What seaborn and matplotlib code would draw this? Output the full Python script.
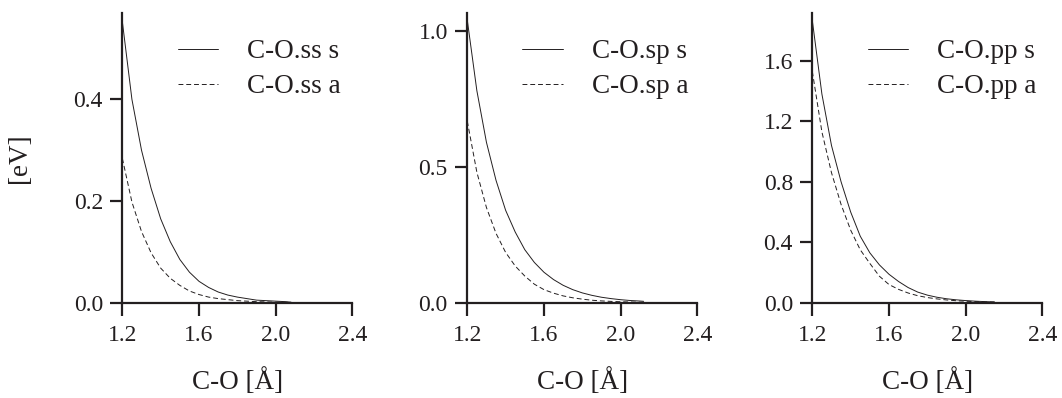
import numpy as np
import pandas as pd
import matplotlib
matplotlib.use("Agg")
import matplotlib.pyplot as plt
import seaborn as sns

# C-O distance grids (Angstrom)
r_ss = [1.20, 1.25, 1.30, 1.35, 1.40, 1.45, 1.50, 1.55, 1.60, 1.65, 1.70,
        1.75, 1.80, 1.85, 1.90, 1.95, 2.00, 2.05, 2.08]
r_sp = [1.20, 1.25, 1.30, 1.35, 1.40, 1.45, 1.50, 1.55, 1.60, 1.65, 1.70,
        1.75, 1.80, 1.85, 1.90, 1.95, 2.00, 2.05, 2.10, 2.12]
r_pp = [1.20, 1.25, 1.30, 1.35, 1.40, 1.45, 1.50, 1.55, 1.60, 1.65, 1.70,
        1.75, 1.80, 1.85, 1.90, 1.95, 2.00, 2.05, 2.10, 2.15]

# energies [eV]
ss_s = [0.553, 0.40, 0.30, 0.225, 0.165, 0.12, 0.085, 0.06, 0.042, 0.030, 0.021,
        0.015, 0.011, 0.008, 0.005, 0.004, 0.003, 0.002, 0.001]
ss_a = [0.284, 0.198, 0.14, 0.098, 0.068, 0.048, 0.034, 0.023, 0.016, 0.011, 0.008,
        0.006, 0.004, 0.003, 0.002, 0.0015, 0.001, 0.0008, 0.0006]
sp_s = [1.04, 0.78, 0.59, 0.45, 0.34, 0.26, 0.195, 0.148, 0.112, 0.085, 0.064,
        0.048, 0.036, 0.027, 0.020, 0.015, 0.011, 0.008, 0.006, 0.005]
sp_a = [0.668, 0.48, 0.35, 0.255, 0.185, 0.135, 0.098, 0.068, 0.048, 0.035, 0.025,
        0.018, 0.013, 0.009, 0.0065, 0.0047, 0.0034, 0.0025, 0.0018, 0.0015]
pp_s = [1.867, 1.38, 1.04, 0.80, 0.60, 0.44, 0.33, 0.25, 0.188, 0.14, 0.10,
        0.07, 0.05, 0.036, 0.026, 0.019, 0.014, 0.010, 0.007, 0.005]
pp_a = [1.53, 1.13, 0.86, 0.65, 0.48, 0.35, 0.26, 0.175, 0.12, 0.088, 0.064,
        0.046, 0.034, 0.025, 0.018, 0.013, 0.0095, 0.007, 0.005, 0.0035]

panels = [
    (r_ss, ss_s, ss_a, "C-O.ss", 0.57, [0.0, 0.2, 0.4]),
    (r_sp, sp_s, sp_a, "C-O.sp", 1.066, [0.0, 0.5, 1.0]),
    (r_pp, pp_s, pp_a, "C-O.pp", 1.917, [0.0, 0.4, 0.8, 1.2, 1.6]),
]
x_ticks = [1.2, 1.6, 2.0, 2.4]

sns.set_theme(style="ticks")
plt.rcParams["font.family"] = ["Liberation Serif", "DejaVu Serif"]
fs = 19.5      # legend and axis labels
tfs = 17       # tick labels

ink = "#231f20"
fig = plt.figure(figsize=(10.62, 3.98), dpi=100)
lefts = [0.1152, 0.4400, 0.7649]

for i, (r, ys, ya, name, ymax, yt) in enumerate(panels):
    ax = fig.add_axes([lefts[i], 0.2395, 0.2166, 0.7279])
    sns.lineplot(x=r, y=ys, ax=ax, color=ink, lw=0.7, label=f"{name} s")
    sns.lineplot(x=r, y=ya, ax=ax, color=ink, lw=0.7, label=f"{name} a",
                 dashes=False, linestyle=(0, (5, 3)))
    ax.set_xlim(1.2, 2.4)
    ax.set_ylim(0, ymax)
    ax.set_xticks(x_ticks)
    ax.set_xticklabels([f"{t:.1f}" for t in x_ticks])
    ax.set_yticks(yt)
    ax.set_yticklabels([f"{t:.1f}" for t in yt])
    sns.despine(ax=ax)
    for sp in ("left", "bottom"):
        ax.spines[sp].set_linewidth(1.6)
        ax.spines[sp].set_color(ink)
    ax.tick_params(length=9, width=1.6, color=ink, labelcolor=ink,
                   labelsize=tfs)
    ax.tick_params(axis="x", pad=7)
    ax.tick_params(axis="y", pad=5)
    ax.set_xlabel("C-O [Å]", color=ink, fontsize=fs, labelpad=16)
    if i == 0:
        ax.set_ylabel("[eV]", color=ink, fontsize=fs, labelpad=30)
    else:
        ax.set_ylabel("")
    ax.legend(loc="upper left", bbox_to_anchor=(0.24, 0.91), frameon=False,
              handlelength=1.5, handletextpad=1.05, labelspacing=0.38,
              borderpad=0, borderaxespad=0, fontsize=fs, labelcolor=ink)

fig.savefig("out.png", dpi=100)
